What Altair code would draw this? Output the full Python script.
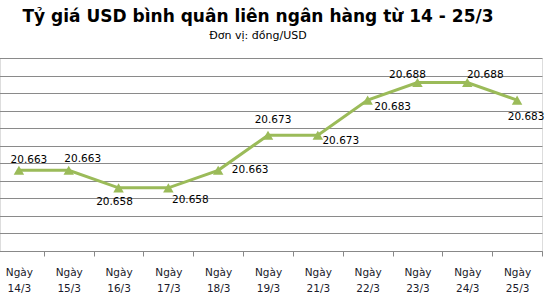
import altair as alt
import pandas as pd

days = ["14/3", "15/3", "16/3", "17/3", "18/3", "19/3", "21/3", "22/3", "23/3", "24/3", "25/3"]
rates = [20.663, 20.663, 20.658, 20.658, 20.663, 20.673, 20.673, 20.683, 20.688, 20.688, 20.683]
y_ticks = [20.640, 20.645, 20.650, 20.655, 20.660, 20.665, 20.670, 20.675, 20.680, 20.685, 20.690, 20.695]

df = pd.DataFrame({"day": days, "rate": rates})
df["label"] = [f"{v:.3f}" for v in rates]

GREEN = "#9BBB59"
FONT = "DejaVu Sans"

x_enc = alt.X(
    "day:N",
    sort=days,
    bandPosition=0.5,
    scale=alt.Scale(type="band", domain=days, range=[-6, 542], paddingInner=0, paddingOuter=0),
    axis=alt.Axis(
        title=None,
        tickBand="extent",
        labelExpr="datum.label ? ['Ngày', datum.label] : ''",
        labelFont=FONT,
        labelFontSize=10.5,
        labelColor="#1a1a2a",
        labelLineHeight=16,
        labelPadding=11,
        labelAngle=0,
        labelBound=False,
        labelOverlap=False,
        tickSize=5,
        tickColor="#888888",
        domainColor="#888888",
        grid=False,
    ),
)
y_enc = alt.Y(
    "rate:Q",
    scale=alt.Scale(domain=[20.640, 20.695], zero=False, nice=False),
    axis=alt.Axis(
        title=None,
        values=y_ticks,
        labels=False,
        ticks=False,
        domain=False,
        grid=True,
        gridColor="#8a8a8a",
        gridWidth=1,
    ),
)

base = alt.Chart(df)
line = base.mark_line(color=GREEN, strokeWidth=3).encode(x=x_enc, y=y_enc)
pts = base.mark_point(shape="triangle-up", filled=True, opacity=1, color=GREEN, size=110).encode(x=x_enc, y=y_enc)

# label placement around each point (layout only)
placement = {
    "14/3": (10, -10), "15/3": (14, -11), "16/3": (-4, 14), "17/3": (22, 12),
    "18/3": (32, 0), "19/3": (5, -15), "21/3": (23, 6), "22/3": (25, 7),
    "23/3": (-10, -8), "24/3": (18, -8), "25/3": (9, 17),
}
texts = []
for d in days:
    dx, dy = placement[d]
    texts.append(
        base.transform_filter(alt.datum.day == d)
        .mark_text(font=FONT, fontSize=10.5, color="#000000", dx=dx, dy=dy, baseline="middle")
        .encode(x=x_enc, y=y_enc, text="label:N")
    )

chart = alt.layer(line, pts, *texts).properties(
    width=542,
    height=193,
    autosize=alt.AutoSizeParams(type="none"),
    padding={"left": 0, "top": 58, "right": 7, "bottom": 55},
    title=alt.TitleParams(
        text="Tỷ giá USD bình quân liên ngân hàng từ 14 - 25/3",
        subtitle="Đơn vị: đồng/USD",
        font=FONT,
        fontSize=17,
        fontWeight="bold",
        color="#000000",
        subtitleFont=FONT,
        subtitleFontSize=11,
        subtitleColor="#000000",
        subtitlePadding=4,
        anchor="middle",
        frame="group",
        dx=-13,
        offset=16,
    ),
).configure_view(stroke=None).configure(background="white")

chart.save("out.html", embed_options={"renderer": "svg", "actions": False})
